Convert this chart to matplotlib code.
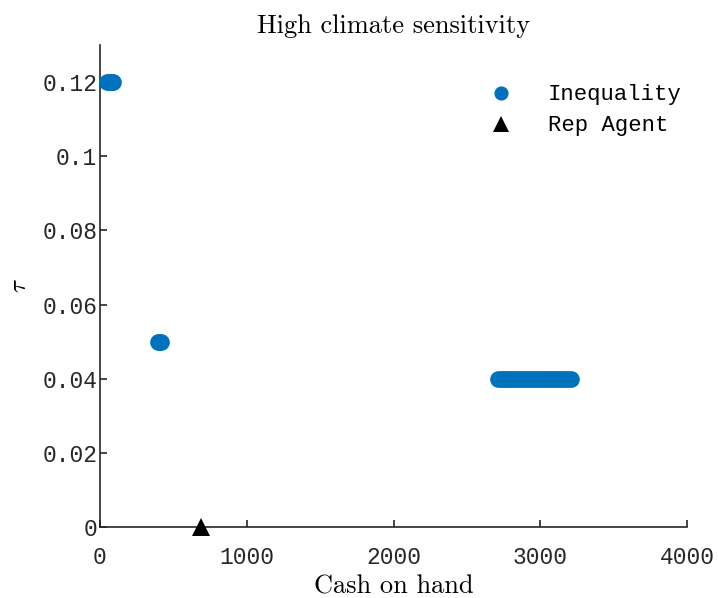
import matplotlib.pyplot as plt

# Inequality: cash on hand vs tau
INEQ_X = [50, 60, 70, 80, 90,
          395, 405, 415,
          2710, 2730, 2750, 2770, 2790, 2810, 2830, 2850, 2870, 2890,
          2910, 2930, 2950, 2970, 2990, 3010, 3030, 3050, 3070, 3090,
          3110, 3130, 3150, 3170, 3190, 3210]
INEQ_Y = [0.12, 0.12, 0.12, 0.12, 0.12,
          0.05, 0.05, 0.05,
          0.04, 0.04, 0.04, 0.04, 0.04, 0.04, 0.04, 0.04, 0.04, 0.04,
          0.04, 0.04, 0.04, 0.04, 0.04, 0.04, 0.04, 0.04, 0.04, 0.04,
          0.04, 0.04, 0.04, 0.04, 0.04, 0.04]

# Representative agent
REP_X = [690]
REP_Y = [0.0]

X_TICKS = [0, 1000, 2000, 3000, 4000]
Y_TICKS = [0, 0.02, 0.04, 0.06, 0.08, 0.1, 0.12]
Y_TICK_LABELS = ['0', '0.02', '0.04', '0.06', '0.08', '0.1', '0.12']

plt.rcParams['mathtext.fontset'] = 'cm'
MONO = 'Liberation Mono'
SERIF = 'cmr10'
GREY = '#262626'

fig = plt.figure(figsize=(7.18, 5.98), dpi=100)
ax = fig.add_axes([100 / 718, 71 / 598, 587 / 718, 482 / 598])

ax.plot(INEQ_X, INEQ_Y, 'o', color='#0072BD', markersize=12,
        markeredgewidth=0, label='Inequality', clip_on=False, zorder=3)
ax.plot(REP_X, REP_Y, '^', color='black', markersize=13,
        markeredgewidth=0, label='Rep Agent', clip_on=False, zorder=4)

ax.set_xlim(0, 4000)
ax.set_ylim(0, 0.13)
ax.set_xticks(X_TICKS)
ax.set_xticklabels([str(t) for t in X_TICKS])
ax.set_yticks(Y_TICKS)
ax.set_yticklabels(Y_TICK_LABELS)

for s in ['top', 'right']:
    ax.spines[s].set_visible(False)
for s in ['left', 'bottom']:
    ax.spines[s].set_color(GREY)
    ax.spines[s].set_linewidth(1.2)

ax.tick_params(direction='in', length=5, width=1.2, color=GREY,
               labelcolor=GREY, labelsize=16.5)
ax.tick_params(axis='x', pad=14)
ax.tick_params(axis='y', pad=2)
for lab in ax.get_xticklabels() + ax.get_yticklabels():
    lab.set_fontfamily(MONO)

ax.set_title('High climate sensitivity', fontfamily=SERIF, fontsize=19, pad=9)
ax.set_xlabel('Cash on hand', fontfamily=SERIF, fontsize=19, labelpad=3.5)
ax.set_ylabel(r'$\tau$', fontsize=18, labelpad=8)

leg = ax.legend(loc='upper right', frameon=False, prop={'family': MONO, 'size': 16},
                bbox_to_anchor=(1.025, 0.96), handletextpad=1.1, labelspacing=0.45,
                markerscale=0.85)

fig.savefig('out.png', dpi=100)
